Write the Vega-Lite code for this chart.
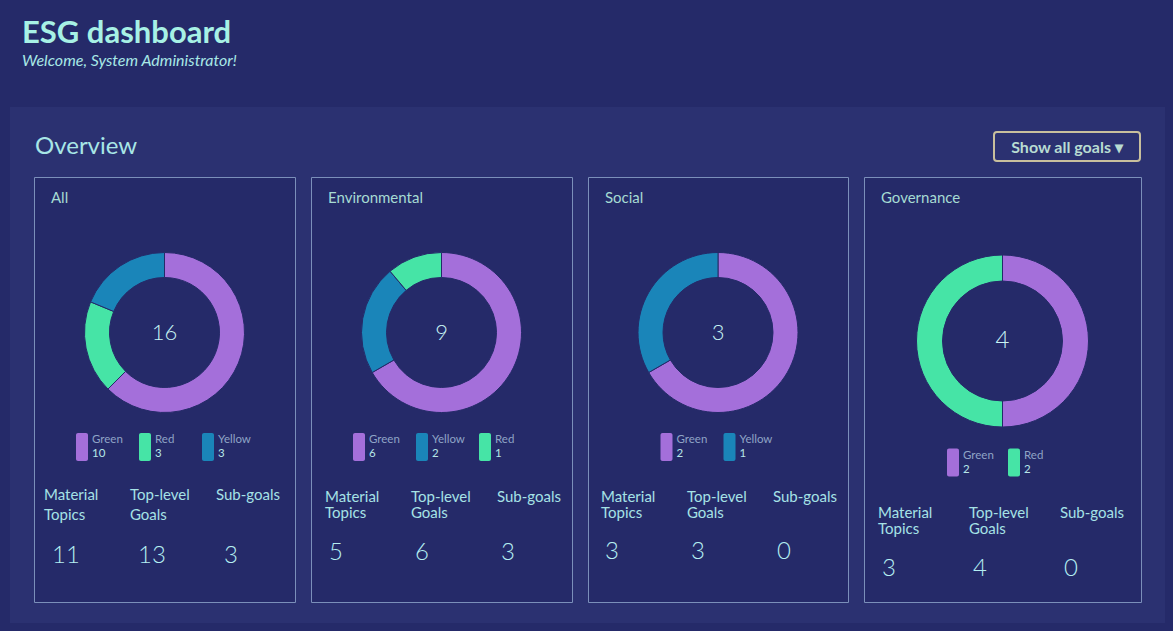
{
  "$schema": "https://vega.github.io/schema/vega-lite/v6.json",
  "background": "#2b3171",
  "padding": 0,
  "config": {
    "font": "Lato",
    "view": {"stroke": null},
    "concat": {"spacing": 0},
    "title": {"anchor": "start", "frame": "group", "font": "Lato", "subtitleFont": "Lato"},
    "text": {"font": "Lato"}
  },
  "datasets": {
    "blank": [],
    "goals_all": [{"status": "Green", "count": 10}, {"status": "Red", "count": 3}, {"status": "Yellow", "count": 3}],
    "goals_env": [{"status": "Green", "count": 6}, {"status": "Yellow", "count": 2}, {"status": "Red", "count": 1}],
    "goals_soc": [{"status": "Green", "count": 2}, {"status": "Yellow", "count": 1}],
    "goals_gov": [{"status": "Green", "count": 2}, {"status": "Red", "count": 2}],
    "stats_all": [{"metric": "Material Topics", "value": 11}, {"metric": "Top-level Goals", "value": 13}, {"metric": "Sub-goals", "value": 3}],
    "stats_env": [{"metric": "Material Topics", "value": 5}, {"metric": "Top-level Goals", "value": 6}, {"metric": "Sub-goals", "value": 3}],
    "stats_soc": [{"metric": "Material Topics", "value": 3}, {"metric": "Top-level Goals", "value": 3}, {"metric": "Sub-goals", "value": 0}],
    "stats_gov": [{"metric": "Material Topics", "value": 3}, {"metric": "Top-level Goals", "value": 4}, {"metric": "Sub-goals", "value": 0}],
    "button": [{"label": "Show all goals ▾"}]
  },
  "spacing": 0,
  "vconcat": [
    {
      "width": 1173, "height": 107,
      "view": {"fill": "#252a69", "stroke": null},
      "title": {"text": "ESG dashboard", "subtitle": "Welcome, System Administrator!", "dx": 22, "offset": -70, "fontSize": 31, "fontWeight": "bold", "color": "#a7f1e5", "subtitleFontSize": 16, "subtitleFontStyle": "italic", "subtitleColor": "#a8e8e6", "subtitlePadding": 3},
      "data": {"name": "blank"},
      "mark": {"type": "text", "text": ""}
    },
    {
      "spacing": 0,
      "hconcat": [
        {"width": 10, "height": 516, "view": {"fill": "#252a69", "stroke": null}, "data": {"name": "blank"}, "mark": {"type": "text", "text": ""}},
        {
          "spacing": 0,
          "vconcat": [
            {
              "spacing": 0,
              "hconcat": [
                {"width": 983, "height": 69, "title": {"text": "Overview", "dx": 25, "offset": -52, "fontSize": 24, "fontWeight": "normal", "color": "#a8e6e6"}, "data": {"name": "blank"}, "mark": {"type": "text", "text": ""}},
                {
                  "spacing": 23,
                  "vconcat": [
                    {"width": 146, "height": 1, "data": {"name": "blank"}, "mark": {"type": "text", "text": ""}},
                    {"width": 146, "height": 29, "view": {"stroke": "#c8bf9d", "strokeWidth": 2, "cornerRadius": 3}, "data": {"name": "button"}, "mark": {"type": "text", "fontSize": 16, "fontWeight": "bold", "color": "#b8dcd2", "baseline": "middle", "dy": 1}, "encoding": {"text": {"field": "label", "type": "nominal"}}}
                  ]
                },
                {"width": 24, "height": 1, "data": {"name": "blank"}, "mark": {"type": "text", "text": ""}}
              ]
            },
            {
              "spacing": 14,
              "hconcat": [
                {"width": 9, "height": 425, "data": {"name": "blank"}, "mark": {"type": "text", "text": ""}},
                {
                  "width": 261, "height": 425,
                  "view": {"fill": "#252a69", "stroke": "#7b8fba", "strokeWidth": 1},
                  "title": {"text": "All", "dx": 17, "offset": -29, "fontSize": 15, "fontWeight": "normal", "color": "#a6dbd3"},
                  "layer": [
                    {"data": {"name": "goals_all"}, "mark": {"type": "arc", "y": 155.5, "radius": 80, "radius2": 55, "stroke": "#252a69", "strokeWidth": 1},
                     "encoding": {"theta": {"field": "count", "type": "quantitative", "stack": true},
                       "color": {"field": "status", "type": "nominal", "scale": {"domain": ["Green", "Red", "Yellow"], "range": ["#a46fda", "#46e4a6", "#1a85b9"]}, "legend": null},
                       "order": {"field": "count", "type": "quantitative", "sort": "descending"}}},
                    {"data": {"name": "goals_all"}, "mark": {"type": "text", "y": 155.5, "baseline": "middle", "fontSize": 22, "fontWeight": 300, "color": "#c8f4f4"},
                     "encoding": {"text": {"aggregate": "sum", "field": "count", "type": "quantitative"}}},
                    {"data": {"name": "goals_all"}, "mark": {"type": "tick", "orient": "vertical", "y": 270, "size": 28, "thickness": 12, "cornerRadius": 2, "opacity": 1},
                     "encoding": {"x": {"field": "status", "type": "nominal", "sort": null, "scale": {"type": "point", "range": [48, 174], "padding": 0}, "axis": null},
                       "color": {"field": "status", "type": "nominal", "scale": {"domain": ["Green", "Red", "Yellow"], "range": ["#a46fda", "#46e4a6", "#1a85b9"]}, "legend": null}}},
                    {"data": {"name": "goals_all"}, "mark": {"type": "text", "align": "left", "dx": 10, "y": 266.3, "baseline": "alphabetic", "fontSize": 11.5, "color": "#8fa4c6"},
                     "encoding": {"x": {"field": "status", "type": "nominal", "sort": null, "scale": {"type": "point", "range": [48, 174], "padding": 0}, "axis": null}, "text": {"field": "status", "type": "nominal"}}},
                    {"data": {"name": "goals_all"}, "mark": {"type": "text", "align": "left", "dx": 10, "y": 280.3, "baseline": "alphabetic", "fontSize": 11.5, "color": "#b6e6e8"},
                     "encoding": {"x": {"field": "status", "type": "nominal", "sort": null, "scale": {"type": "point", "range": [48, 174], "padding": 0}, "axis": null}, "text": {"field": "count", "type": "quantitative"}}},
                    {"data": {"name": "stats_all"}, "mark": {"type": "text", "align": "left", "y": 323, "baseline": "alphabetic", "lineBreak": " ", "lineHeight": 20, "fontSize": 15, "color": "#a6e2e6"},
                     "encoding": {"x": {"field": "metric", "type": "nominal", "sort": null, "scale": {"type": "point", "range": [10, 182], "padding": 0}, "axis": null}, "text": {"field": "metric", "type": "nominal"}}},
                    {"data": {"name": "stats_all"}, "mark": {"type": "text", "align": "left", "dx": 8, "y": 386.3, "baseline": "alphabetic", "fontSize": 24, "fontWeight": 300, "color": "#b4eef2"},
                     "encoding": {"x": {"field": "metric", "type": "nominal", "sort": null, "scale": {"type": "point", "range": [10, 182], "padding": 0}, "axis": null}, "text": {"field": "value", "type": "quantitative"}}}
                  ],
                  "resolve": {"scale": {"x": "independent"}}
                },
                {
                  "width": 261, "height": 425,
                  "view": {"fill": "#252a69", "stroke": "#7b8fba", "strokeWidth": 1},
                  "title": {"text": "Environmental", "dx": 17, "offset": -29, "fontSize": 15, "fontWeight": "normal", "color": "#a6dbd3"},
                  "layer": [
                    {"data": {"name": "goals_env"}, "mark": {"type": "arc", "y": 155.5, "radius": 80, "radius2": 55, "stroke": "#252a69", "strokeWidth": 1},
                     "encoding": {"theta": {"field": "count", "type": "quantitative", "stack": true},
                       "color": {"field": "status", "type": "nominal", "scale": {"domain": ["Green", "Red", "Yellow"], "range": ["#a46fda", "#46e4a6", "#1a85b9"]}, "legend": null},
                       "order": {"field": "count", "type": "quantitative", "sort": "descending"}}},
                    {"data": {"name": "goals_env"}, "mark": {"type": "text", "y": 155.5, "baseline": "middle", "fontSize": 22, "fontWeight": 300, "color": "#c8f4f4"},
                     "encoding": {"text": {"aggregate": "sum", "field": "count", "type": "quantitative"}}},
                    {"data": {"name": "goals_env"}, "mark": {"type": "tick", "orient": "vertical", "y": 270, "size": 28, "thickness": 12, "cornerRadius": 2, "opacity": 1},
                     "encoding": {"x": {"field": "status", "type": "nominal", "sort": null, "scale": {"type": "point", "range": [48, 174], "padding": 0}, "axis": null},
                       "color": {"field": "status", "type": "nominal", "scale": {"domain": ["Green", "Red", "Yellow"], "range": ["#a46fda", "#46e4a6", "#1a85b9"]}, "legend": null}}},
                    {"data": {"name": "goals_env"}, "mark": {"type": "text", "align": "left", "dx": 10, "y": 266.3, "baseline": "alphabetic", "fontSize": 11.5, "color": "#8fa4c6"},
                     "encoding": {"x": {"field": "status", "type": "nominal", "sort": null, "scale": {"type": "point", "range": [48, 174], "padding": 0}, "axis": null}, "text": {"field": "status", "type": "nominal"}}},
                    {"data": {"name": "goals_env"}, "mark": {"type": "text", "align": "left", "dx": 10, "y": 280.3, "baseline": "alphabetic", "fontSize": 11.5, "color": "#b6e6e8"},
                     "encoding": {"x": {"field": "status", "type": "nominal", "sort": null, "scale": {"type": "point", "range": [48, 174], "padding": 0}, "axis": null}, "text": {"field": "count", "type": "quantitative"}}},
                    {"data": {"name": "stats_env"}, "mark": {"type": "text", "align": "left", "y": 325.3, "baseline": "alphabetic", "lineBreak": " ", "lineHeight": 16, "fontSize": 15, "color": "#a6e2e6"},
                     "encoding": {"x": {"field": "metric", "type": "nominal", "sort": null, "scale": {"type": "point", "range": [14, 186], "padding": 0}, "axis": null}, "text": {"field": "metric", "type": "nominal"}}},
                    {"data": {"name": "stats_env"}, "mark": {"type": "text", "align": "left", "dx": 4, "y": 383, "baseline": "alphabetic", "fontSize": 24, "fontWeight": 300, "color": "#b4eef2"},
                     "encoding": {"x": {"field": "metric", "type": "nominal", "sort": null, "scale": {"type": "point", "range": [14, 186], "padding": 0}, "axis": null}, "text": {"field": "value", "type": "quantitative"}}}
                  ],
                  "resolve": {"scale": {"x": "independent"}}
                },
                {
                  "width": 260, "height": 425,
                  "view": {"fill": "#252a69", "stroke": "#7b8fba", "strokeWidth": 1},
                  "title": {"text": "Social", "dx": 17, "offset": -29, "fontSize": 15, "fontWeight": "normal", "color": "#a6dbd3"},
                  "layer": [
                    {"data": {"name": "goals_soc"}, "mark": {"type": "arc", "y": 155.5, "radius": 80, "radius2": 55, "stroke": "#252a69", "strokeWidth": 1},
                     "encoding": {"theta": {"field": "count", "type": "quantitative", "stack": true},
                       "color": {"field": "status", "type": "nominal", "scale": {"domain": ["Green", "Red", "Yellow"], "range": ["#a46fda", "#46e4a6", "#1a85b9"]}, "legend": null},
                       "order": {"field": "count", "type": "quantitative", "sort": "descending"}}},
                    {"data": {"name": "goals_soc"}, "mark": {"type": "text", "y": 155.5, "baseline": "middle", "fontSize": 22, "fontWeight": 300, "color": "#c8f4f4"},
                     "encoding": {"text": {"aggregate": "sum", "field": "count", "type": "quantitative"}}},
                    {"data": {"name": "goals_soc"}, "mark": {"type": "tick", "orient": "vertical", "y": 270, "size": 28, "thickness": 12, "cornerRadius": 2, "opacity": 1},
                     "encoding": {"x": {"field": "status", "type": "nominal", "sort": null, "scale": {"type": "point", "range": [78.5, 141.5], "padding": 0}, "axis": null},
                       "color": {"field": "status", "type": "nominal", "scale": {"domain": ["Green", "Red", "Yellow"], "range": ["#a46fda", "#46e4a6", "#1a85b9"]}, "legend": null}}},
                    {"data": {"name": "goals_soc"}, "mark": {"type": "text", "align": "left", "dx": 10, "y": 266.3, "baseline": "alphabetic", "fontSize": 11.5, "color": "#8fa4c6"},
                     "encoding": {"x": {"field": "status", "type": "nominal", "sort": null, "scale": {"type": "point", "range": [78.5, 141.5], "padding": 0}, "axis": null}, "text": {"field": "status", "type": "nominal"}}},
                    {"data": {"name": "goals_soc"}, "mark": {"type": "text", "align": "left", "dx": 10, "y": 280.3, "baseline": "alphabetic", "fontSize": 11.5, "color": "#b6e6e8"},
                     "encoding": {"x": {"field": "status", "type": "nominal", "sort": null, "scale": {"type": "point", "range": [78.5, 141.5], "padding": 0}, "axis": null}, "text": {"field": "count", "type": "quantitative"}}},
                    {"data": {"name": "stats_soc"}, "mark": {"type": "text", "align": "left", "y": 325, "baseline": "alphabetic", "lineBreak": " ", "lineHeight": 16, "fontSize": 15, "color": "#a6e2e6"},
                     "encoding": {"x": {"field": "metric", "type": "nominal", "sort": null, "scale": {"type": "point", "range": [13, 185], "padding": 0}, "axis": null}, "text": {"field": "metric", "type": "nominal"}}},
                    {"data": {"name": "stats_soc"}, "mark": {"type": "text", "align": "left", "dx": 4, "y": 382.3, "baseline": "alphabetic", "fontSize": 24, "fontWeight": 300, "color": "#b4eef2"},
                     "encoding": {"x": {"field": "metric", "type": "nominal", "sort": null, "scale": {"type": "point", "range": [13, 185], "padding": 0}, "axis": null}, "text": {"field": "value", "type": "quantitative"}}}
                  ],
                  "resolve": {"scale": {"x": "independent"}}
                },
                {
                  "width": 277, "height": 425,
                  "view": {"fill": "#252a69", "stroke": "#7b8fba", "strokeWidth": 1},
                  "title": {"text": "Governance", "dx": 17, "offset": -29, "fontSize": 15, "fontWeight": "normal", "color": "#a6dbd3"},
                  "layer": [
                    {"data": {"name": "goals_gov"}, "mark": {"type": "arc", "y": 164, "radius": 86, "radius2": 60, "stroke": "#252a69", "strokeWidth": 1},
                     "encoding": {"theta": {"field": "count", "type": "quantitative", "stack": true},
                       "color": {"field": "status", "type": "nominal", "scale": {"domain": ["Green", "Red", "Yellow"], "range": ["#a46fda", "#46e4a6", "#1a85b9"]}, "legend": null},
                       "order": {"field": "count", "type": "quantitative", "sort": "descending"}}},
                    {"data": {"name": "goals_gov"}, "mark": {"type": "text", "y": 164, "baseline": "middle", "fontSize": 24, "fontWeight": 300, "color": "#c8f4f4"},
                     "encoding": {"text": {"aggregate": "sum", "field": "count", "type": "quantitative"}}},
                    {"data": {"name": "goals_gov"}, "mark": {"type": "tick", "orient": "vertical", "y": 285.5, "size": 28, "thickness": 12, "cornerRadius": 2, "opacity": 1},
                     "encoding": {"x": {"field": "status", "type": "nominal", "sort": null, "scale": {"type": "point", "range": [89, 150], "padding": 0}, "axis": null},
                       "color": {"field": "status", "type": "nominal", "scale": {"domain": ["Green", "Red", "Yellow"], "range": ["#a46fda", "#46e4a6", "#1a85b9"]}, "legend": null}}},
                    {"data": {"name": "goals_gov"}, "mark": {"type": "text", "align": "left", "dx": 10, "y": 282.3, "baseline": "alphabetic", "fontSize": 11.5, "color": "#8fa4c6"},
                     "encoding": {"x": {"field": "status", "type": "nominal", "sort": null, "scale": {"type": "point", "range": [89, 150], "padding": 0}, "axis": null}, "text": {"field": "status", "type": "nominal"}}},
                    {"data": {"name": "goals_gov"}, "mark": {"type": "text", "align": "left", "dx": 10, "y": 295.7, "baseline": "alphabetic", "fontSize": 11.5, "color": "#b6e6e8"},
                     "encoding": {"x": {"field": "status", "type": "nominal", "sort": null, "scale": {"type": "point", "range": [89, 150], "padding": 0}, "axis": null}, "text": {"field": "count", "type": "quantitative"}}},
                    {"data": {"name": "stats_gov"}, "mark": {"type": "text", "align": "left", "y": 341.3, "baseline": "alphabetic", "lineBreak": " ", "lineHeight": 16, "fontSize": 15, "color": "#a6e2e6"},
                     "encoding": {"x": {"field": "metric", "type": "nominal", "sort": null, "scale": {"type": "point", "range": [14, 196], "padding": 0}, "axis": null}, "text": {"field": "metric", "type": "nominal"}}},
                    {"data": {"name": "stats_gov"}, "mark": {"type": "text", "align": "left", "dx": 4, "y": 399, "baseline": "alphabetic", "fontSize": 24, "fontWeight": 300, "color": "#b4eef2"},
                     "encoding": {"x": {"field": "metric", "type": "nominal", "sort": null, "scale": {"type": "point", "range": [14, 196], "padding": 0}, "axis": null}, "text": {"field": "value", "type": "quantitative"}}}
                  ],
                  "resolve": {"scale": {"x": "independent"}}
                }
              ]
            }
          ]
        },
        {"width": 8, "height": 516, "view": {"fill": "#252a69", "stroke": null}, "data": {"name": "blank"}, "mark": {"type": "text", "text": ""}}
      ]
    },
    {"width": 1173, "height": 8, "view": {"fill": "#252a69", "stroke": null}, "data": {"name": "blank"}, "mark": {"type": "text", "text": ""}}
  ]
}
